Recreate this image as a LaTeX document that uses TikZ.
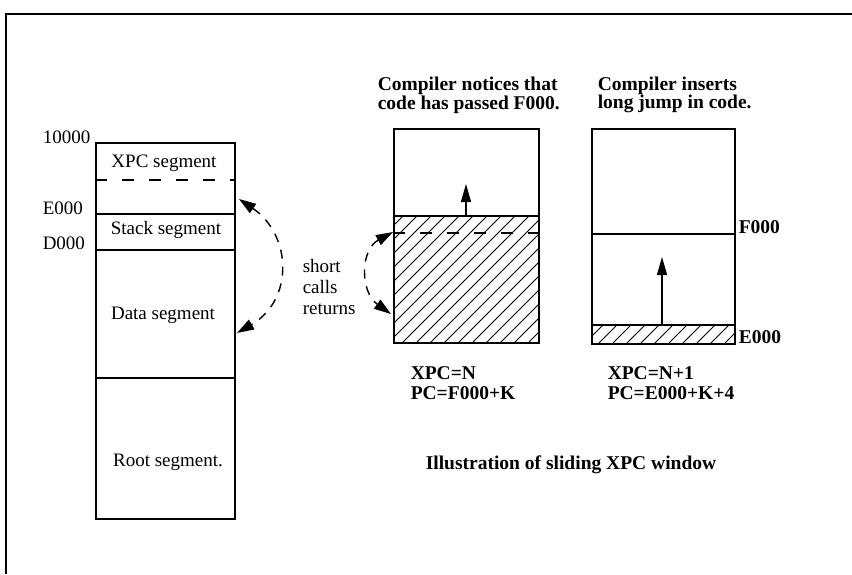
\documentclass[tikz,border=0pt]{standalone}
\usepackage{fontspec}
\setmainfont{Liberation Serif}
\usetikzlibrary{arrows.meta}
\begin{document}
\begin{tikzpicture}[x=1pt,y=-1pt, line width=1.5pt,
  lbl/.style={inner sep=0pt, font=\fontsize{19}{21}\selectfont},
  bl/.style={inner sep=0pt, font=\fontsize{19.5}{17}\selectfont\bfseries, align=left},
  bl2/.style={inner sep=0pt, font=\fontsize{19.5}{20}\selectfont\bfseries, align=left},
  seg/.style={draw, rectangle, inner sep=0pt, minimum width=139pt, anchor=north west},
  dsh/.style={dash pattern=on 12pt off 15pt},
  darrow/.style={line width=1.4pt, dash pattern=on 9pt off 8pt, {Triangle[length=17pt,width=11pt]}-{Triangle[length=17pt,width=11pt]}},
  uparrow/.style={line width=1.4pt, -{Triangle[length=18pt,width=10pt]}},
  hatch/.style={line width=1pt}]
\useasboundingbox (0,0) rectangle (852,574);
% frame
\draw (6,574) -- (6,14) -- (852,14);

% left column
\node[seg, minimum height=71pt] (xpc) at (95,142) {};
\node[seg, minimum height=36pt] (stack) at (95,213) {};
\node[seg, minimum height=128pt] (data) at (95,249) {};
\node[seg, minimum height=141pt] (root) at (95,377) {};
\draw[dsh] (95,180) -- (234,180);
\node[lbl] (txpc) at (164,163) {XPC segment};
\node[lbl] (tstack) at (166,230) {Stack segment};
\node[lbl] (tdata) at (163,315) {Data segment};
\node[lbl] (troot) at (168,462) {Root segment.};
\node[lbl, anchor=west] (l1) at (42,137) {10000};
\node[lbl, anchor=west] (l2) at (42,208) {E000};
\node[lbl, anchor=west] (l3) at (42,243) {D000};

% short calls returns
\node[lbl, align=left, anchor=west] (scr) at (302,287) {short\\calls\\returns};
\coordinate (a1) at (239,199);
\coordinate (a2) at (237,333);
\draw[darrow] (a1) .. controls (292,235) and (294,300) .. (a2);

% middle box
\begin{scope}
\clip (393,216) rectangle (538,342);
\foreach \i in {0,...,20} \draw[hatch] (263+\i*14,342) -- ++(130,-130);
\end{scope}
\node[draw, rectangle, inner sep=0pt, minimum width=145pt, minimum height=214pt, anchor=north west] (mid) at (393,128) {};
\draw (393,216) -- (538,216);
\draw[dsh] (393,233) -- (538,233);
\coordinate (m0) at (466,216);
\coordinate (m1) at (466,184);
\draw[uparrow] (m0) -- (m1);
\coordinate (b1) at (393,232);
\coordinate (b2) at (391,314);
\draw[darrow] (b1) .. controls (360,250) and (360,292) .. (b2);
\node[bl, anchor=west] (cap1) at (377,95) {Compiler notices that\\code has passed F000.};
\node[bl2, anchor=west] (v1) at (410,383) {XPC=N\\PC=F000+K};

% right box
\begin{scope}
\clip (591,325) rectangle (734,343);
\foreach \i in {0,...,11} \draw[hatch] (571+\i*14,343) -- ++(20,-20);
\end{scope}
\node[draw, rectangle, inner sep=0pt, minimum width=143pt, minimum height=215pt, anchor=north west] (rgt) at (591,128) {};
\draw (591,234) -- (734,234);
\draw (591,325) -- (734,325);
\coordinate (r0) at (662,325);
\coordinate (r1) at (662,257);
\draw[uparrow] (r0) -- (r1);
\node[bl, anchor=west] (cap2) at (597,95) {Compiler inserts\\long jump in code.};
\node[bl, anchor=west] (f000) at (738,227) {F000};
\node[bl, anchor=west] (e000) at (738,337) {E000};
\node[bl2, anchor=west] (v2) at (607,383) {XPC=N+1\\PC=E000+K+4};

\node[bl] (title) at (571,465) {Illustration of sliding XPC window};
\end{tikzpicture}
\end{document}
